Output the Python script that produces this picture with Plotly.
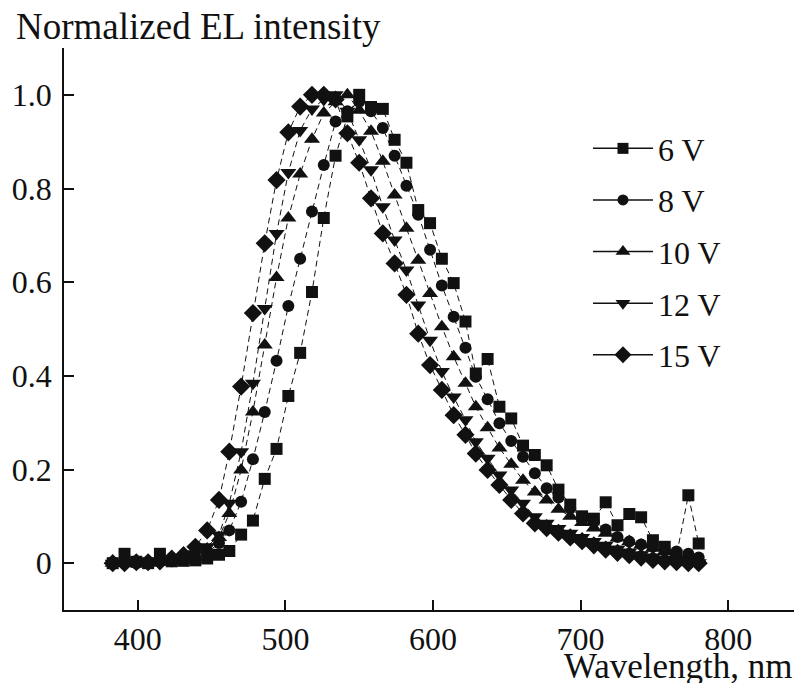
import plotly.graph_objects as go

# wavelength grid (nm), shared by all series
wavelength = [383, 391, 399, 407, 415, 423, 431, 439, 447, 455, 462, 470, 478, 486, 494,
              502, 510, 518, 526, 534, 542, 550, 558, 566, 574, 582, 590, 598, 606, 614,
              622, 629, 637, 645, 653, 661, 669, 677, 685, 693, 701, 709, 717, 725, 733,
              741, 749, 757, 765, 773, 780]

v6 = [0.0, 0.02, 0.003, 0.0, 0.02, 0.004, 0.005, 0.006, 0.01, 0.018, 0.026, 0.061, 0.091,
      0.18, 0.244, 0.357, 0.449, 0.579, 0.737, 0.87, 0.954, 1.0, 0.974, 0.97, 0.904, 0.855,
      0.754, 0.726, 0.65, 0.598, 0.516, 0.405, 0.436, 0.334, 0.309, 0.251, 0.231, 0.209,
      0.157, 0.125, 0.10, 0.095, 0.13, 0.081, 0.105, 0.098, 0.049, 0.035, 0.017, 0.145, 0.042]

v8 = [0.0, 0.0, 0.0, 0.0, 0.003, 0.005, 0.007, 0.012, 0.022, 0.043, 0.07, 0.131, 0.222,
      0.323, 0.432, 0.549, 0.65, 0.751, 0.85, 0.943, 0.965, 0.985, 0.965, 0.929, 0.87, 0.806,
      0.744, 0.669, 0.593, 0.526, 0.46, 0.398, 0.35, 0.299, 0.261, 0.227, 0.192, 0.16, 0.14,
      0.117, 0.099, 0.088, 0.072, 0.056, 0.046, 0.04, 0.035, 0.03, 0.025, 0.02, 0.012]

v10 = [0.0, 0.0, 0.0, 0.0, 0.002, 0.004, 0.007, 0.012, 0.03, 0.055, 0.106, 0.199, 0.323,
       0.466, 0.61, 0.737, 0.831, 0.905, 0.961, 0.985, 1.0, 0.967, 0.922, 0.858, 0.786, 0.715,
       0.647, 0.576, 0.505, 0.441, 0.384, 0.334, 0.289, 0.246, 0.211, 0.177, 0.152, 0.135,
       0.115, 0.1, 0.087, 0.075, 0.064, 0.054, 0.046, 0.039, 0.032, 0.025, 0.019, 0.013, 0.008]

v12 = [0.0, 0.0, 0.0, 0.002, 0.003, 0.006, 0.01, 0.02, 0.035, 0.06, 0.128, 0.238, 0.384,
       0.544, 0.704, 0.834, 0.924, 0.97, 0.99, 1.0, 0.965, 0.904, 0.84, 0.761, 0.69, 0.626,
       0.551, 0.476, 0.409, 0.355, 0.306, 0.259, 0.224, 0.188, 0.156, 0.128, 0.099, 0.085,
       0.074, 0.064, 0.055, 0.046, 0.038, 0.03, 0.024, 0.018, 0.013, 0.009, 0.006, 0.003, 0.001]

v15 = [0.0, 0.0, 0.002, 0.002, 0.004, 0.01, 0.017, 0.035, 0.07, 0.135, 0.238, 0.377, 0.534,
       0.683, 0.818, 0.92, 0.975, 1.0, 1.0, 0.99, 0.918, 0.855, 0.779, 0.704, 0.64, 0.573,
       0.49, 0.423, 0.37, 0.316, 0.274, 0.234, 0.199, 0.167, 0.135, 0.106, 0.085, 0.075,
       0.065, 0.055, 0.047, 0.038, 0.029, 0.022, 0.017, 0.012, 0.007, 0.004, 0.002, 0.0, 0.0]

labels = ['6 V', '8 V', '10 V', '12 V', '15 V']
symbols = ['square', 'circle', 'triangle-up', 'triangle-down', 'diamond']
sizes = [12, 12, 14, 14, 14]

xticks = [400, 500, 600, 700, 800]
yticks = [0, 0.2, 0.4, 0.6, 0.8, 1.0]
yticktext = ['0', '0.2', '0.4', '0.6', '0.8', '1.0']

FONT = 'Liberation Serif'
INK = '#111111'

fig = go.Figure()

series = [v6, v8, v10, v12, v15]
for vals, name, sym, sz in zip(series, labels, symbols, sizes):
    # data: thin dashed connector, no legend entry
    fig.add_trace(go.Scatter(
        x=wavelength, y=vals, mode='lines+markers', showlegend=False,
        line=dict(color=INK, width=1, dash='6px,4px'),
        marker=dict(symbol=sym, size=sz, color=INK, line=dict(width=0)),
    ))

for name, sym, sz in zip(labels, symbols, sizes):
    # legend entry with solid line like in the figure
    fig.add_trace(go.Scatter(
        x=[None], y=[None], mode='lines+markers', name=name, legendgroup=name,
        line=dict(color=INK, width=1.5),
        marker=dict(symbol=sym, size=sz - 1, color=INK),
    ))

axis_common = dict(
    showline=True, linecolor=INK, linewidth=1.5,
    ticks='inside', ticklen=10, tickwidth=1.5, tickcolor=INK,
    showgrid=False, zeroline=False, mirror=False, automargin=False,
    tickfont=dict(family=FONT, size=32, color=INK),
)

fig.update_xaxes(range=[350, 850], tickvals=xticks, **axis_common)
fig.update_yaxes(range=[-0.1, 1.1], tickvals=yticks, ticktext=yticktext,
                 ticklabelstandoff=4, **axis_common)

# page body adds an 8px margin, so the margins are set 8px smaller on top/left
fig.update_layout(
    width=802, height=683,
    margin=dict(l=56, r=8, t=40, b=81),
    paper_bgcolor='white', plot_bgcolor='white',
    font=dict(family=FONT, color=INK),
    legend=dict(
        x=0.71, y=0.87, xanchor='left', yanchor='top',
        font=dict(family=FONT, size=32, color=INK),
        bgcolor='rgba(0,0,0,0)', itemwidth=60,
        tracegroupgap=7,
    ),
    annotations=[
        dict(text='Normalized EL intensity', xref='paper', yref='paper',
             x=-0.068, y=1.039, xanchor='left', yanchor='middle', showarrow=False,
             font=dict(family=FONT, size=37, color=INK)),
        dict(text='Wavelength, nm', xref='paper', yref='paper',
             x=0.99, y=-0.101, xanchor='right', yanchor='middle', showarrow=False,
             font=dict(family=FONT, size=35, color=INK)),
    ],
)

fig.write_html("out.html")
